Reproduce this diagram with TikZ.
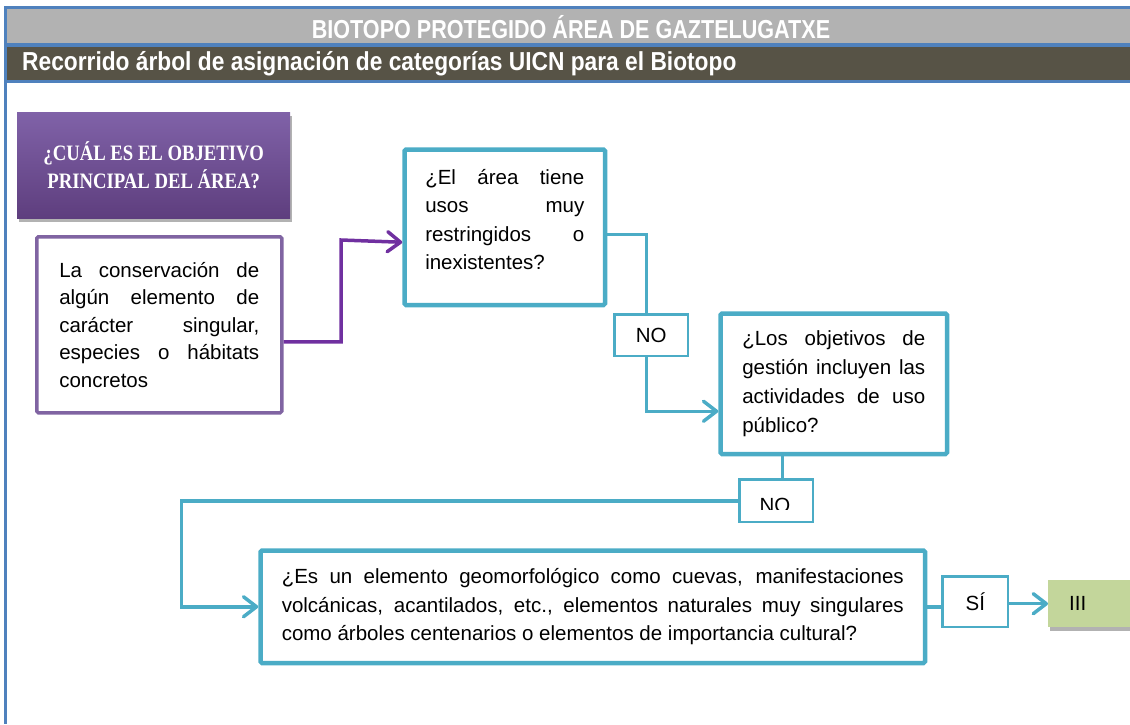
\documentclass[tikz,border=0pt]{standalone}
\usepackage{fontspec}
\setmainfont{Liberation Sans}
\newfontfamily\narrowfont[FakeStretch=0.83]{Liberation Sans}
\newfontfamily\subfont[FakeStretch=0.875]{Liberation Sans}
\newfontfamily\headserif[FakeStretch=0.85]{Liberation Serif}
\usetikzlibrary{shadows,arrows.meta}
\definecolor{frameblue}{HTML}{4F81BD}
\definecolor{bandgray}{HTML}{B2B2B2}
\definecolor{banddark}{HTML}{575346}
\definecolor{boxteal}{HTML}{4BACC6}
\definecolor{boxpurple}{HTML}{8064A2}
\definecolor{arrowpurple}{HTML}{7030A0}
\definecolor{headtop}{HTML}{8062A8}
\definecolor{headbot}{HTML}{5E3E7E}
\definecolor{resgreen}{HTML}{C3D69B}
\tikzset{
  bandtext/.style={text=white, inner sep=0pt},
  headbox/.style={anchor=north west, top color=headtop, bottom color=headbot, draw=none,
    minimum width=273pt, minimum height=106pt, text=white, align=center,
    font=\headserif\bfseries\fontsize{22}{28}\selectfont,
    drop shadow={shadow xshift=2pt, shadow yshift=-4pt, opacity=0.3, fill=black}},
  qbox/.style={anchor=north west, draw=boxteal, line width=4.5pt, rounded corners=1.5pt,
    fill=white, align=justify, inner sep=0pt},
  pbox/.style={anchor=north west, draw=boxpurple, line width=3.5pt, rounded corners=1.5pt,
    fill=white, align=justify, inner sep=0pt},
  labbox/.style={anchor=north west, draw=boxteal, line width=2.5pt, fill=white, inner sep=0pt,
    font=\fontsize{20.5}{24}\selectfont},
  conn/.style={draw=boxteal, line width=3.5pt},
  tip/.style={-{Straight Barb[length=13pt,width=20pt,round]}},
  bodyfont/.style={font=\fontsize{20.5}{#1}\selectfont}
}
\begin{document}
\begin{tikzpicture}[x=1pt,y=-1pt]
\useasboundingbox (0,0) rectangle (1130,724);
% frame and bands
\fill[frameblue] (4,6) rectangle (1130,83);
\fill[bandgray] (7,9) rectangle (1130,43);
\fill[banddark] (7,47) rectangle (1130,80);
\fill[frameblue] (4,6) rectangle (7,724);
\node[bandtext, font=\narrowfont\bfseries\fontsize{26}{28}\selectfont] (title) at (571,27) {BIOTOPO PROTEGIDO ÁREA DE GAZTELUGATXE};
\node[bandtext, anchor=west, font=\subfont\bfseries\fontsize{26}{28}\selectfont] (subtitle) at (22,64) {Recorrido árbol de asignación de categorías UICN para el Biotopo};

% header
\node[headbox] (head) at (17,112) {¿CUÁL ES EL OBJETIVO\\PRINCIPAL DEL ÁREA?};

% purple answer box
\node[pbox, bodyfont=27.5, text width=200pt, minimum width=245pt, minimum height=176pt] (answer) at (35,235)
  {La conservación de\linebreak algún elemento de\linebreak carácter singular,\linebreak especies o hábitats\linebreak concretos};

% question boxes
\node[qbox, bodyfont=28.5, text width=159pt, minimum width=200.5pt, minimum height=155.5pt] (q1) at (402.25,147.25)
  {¿El área tiene\linebreak usos muy\linebreak restringidos o\linebreak inexistentes?\par\vspace{15pt}\hrule height 0pt};
\node[qbox, bodyfont=29, text width=183pt, minimum width=226.5pt, minimum height=140.5pt] (q2) at (718.25,311.25)
  {¿Los objetivos de\linebreak gestión incluyen las\linebreak actividades de uso\linebreak público?};
\node[qbox, bodyfont=28.5, text width=622pt, minimum width=664.5pt, minimum height=112.5pt] (q3) at (258.25,548.25)
  {¿Es un elemento geomorfológico como cuevas, manifestaciones\linebreak volcánicas, acantilados, etc., elementos naturales muy singulares\linebreak como árboles centenarios o elementos de importancia cultural?};

% label boxes
\node[labbox, minimum width=73.5pt, minimum height=41.5pt] (no1) at (613.25,313.25) {NO};
\node[labbox, minimum width=73.5pt, minimum height=42.5pt] (no2) at (738.25,478.25) {};
\begin{scope}
  \clip (740,481) rectangle (810,509);
  \node[font=\fontsize{20.5}{24}\selectfont, anchor=base, inner sep=0pt] (no2text) at (775,512) {NO};
\end{scope}
\node[labbox, minimum width=65.5pt, minimum height=50.5pt] (si) at (941.25,575.25) {SÍ};

% result box
\node[anchor=north west, fill=resgreen, minimum height=47pt, text width=40pt, inner xsep=21pt,
  inner ysep=0pt, align=left, font=\fontsize{20.5}{24}\selectfont,
  drop shadow={shadow xshift=2pt, shadow yshift=-4pt, opacity=0.3, fill=black}] (iii) at (1048,580) {III};

% connectors
\draw[draw=arrowpurple, line width=3.5pt, tip] ([yshift=-17pt]answer.east) -| (341,240) -- ([yshift=-15pt]q1.west);
\draw[conn] ([yshift=-7pt]q1.east) -| ([xshift=-5pt]no1.north);
\draw[conn, tip] ([xshift=-5pt]no1.south) |- ([yshift=-27.5pt]q2.west);
\draw[conn] ([xshift=-51.5pt]q2.south) coordinate (q2s) -- (q2s |- no2.north);
\draw[conn, tip] (no2.west) -- ++(-557pt,0pt) |- (q3.west);
\draw[conn] (q3.east) -- (q3.east -| si.west);
\draw[conn, tip] (si.east |- iii.west) -- (iii.west);
\end{tikzpicture}
\end{document}
